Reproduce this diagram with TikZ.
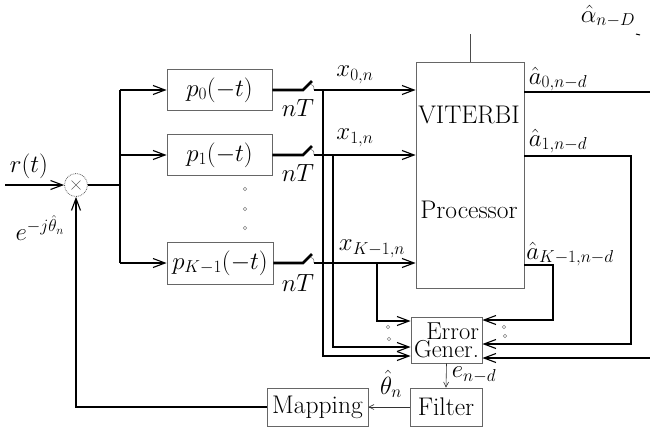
\documentclass[tikz,border=0pt]{standalone}
\usetikzlibrary{arrows.meta}
\newcommand\dfont{\fontsize{25.5}{29}\selectfont}
\newcommand\efont{\fontsize{24.5}{26}\selectfont}
\newcommand\mfont{\fontsize{25}{29}\selectfont}
\newcommand\rfont{\fontsize{32}{36}\selectfont}
\begin{document}
\begin{tikzpicture}[x=1pt,y=-1pt,
  sig/.style={line width=2.8pt},
  sigarr/.style={sig,-{Straight Barb[length=12pt,width=9pt,line width=1.1pt]}},
  thinarr/.style={line width=0.6pt,draw=black!80,-{Straight Barb[length=5pt,width=5pt,line width=0.6pt]}},
  thinln/.style={line width=0.6pt,draw=black!70},
  blk/.style={draw=black!60,line width=0.8pt,inner sep=0pt,font=\dfont},
  mblk/.style={blk,font=\mfont},
  lab/.style={inner sep=0pt,font=\mfont},
  tlab/.style={inner sep=0pt,font=\dfont},
  dotc/.style={circle,draw=black!50,line width=0.4pt,inner sep=0pt,minimum size=3.5pt},
  mult/.style={circle,draw=black!65,densely dotted,line width=0.8pt,minimum size=23pt,inner sep=0pt,
    path picture={\draw[black!60,line width=0.6pt,solid]
      ([shift={(-4.5pt,-4.5pt)}]path picture bounding box.center) -- ([shift={(4.5pt,4.5pt)}]path picture bounding box.center)
      ([shift={(-4.5pt,4.5pt)}]path picture bounding box.center) -- ([shift={(4.5pt,-4.5pt)}]path picture bounding box.center);}}
]
\useasboundingbox (0,0) rectangle (650,432);

% multiplier and input
\coordinate (in) at (5,185);
\node[mult] (m) at (76,185) {};
\node[inner sep=0pt,font=\rfont] (rt) at (29,166) {$r(t)$};
\node[lab] (ej) at (40,228) {$e^{-j\hat{\theta}_n}$};
\draw[sigarr] (in) -- (m.west);

% matched filters
\node[mblk,minimum width=105pt,minimum height=41pt] (p0) at (219.5,90) {$p_0(-t)$};
\node[mblk,minimum width=105pt,minimum height=41pt] (p1) at (219.5,155) {$p_1(-t)$};
\node[mblk,minimum width=106pt,minimum height=42pt] (pK) at (220,263) {$p_{K-1}(-t)$};
\node[dotc] (d1) at (245,189) {};
\node[dotc] (d2) at (245,209) {};
\node[dotc] (d3) at (245,228) {};

\coordinate (j) at (120,185);
\coordinate (jt) at (120,90);
\coordinate (jb) at (120,263);
\draw[sig] (m.east) -- (j);
\draw[sig] (jt) -- (jb);
\draw[sigarr] (jt) -- (p0.west);
\draw[sigarr] (j |- p1.west) -- (p1.west);
\draw[sigarr] (jb) -- (pK.west);

% Viterbi processor
\node[blk,minimum width=108pt,minimum height=226pt] (vit) at (470,175) {};
\node[tlab] (vt1) at (469,115) {VITERBI};
\node[tlab] (vt2) at (469,210) {Processor};
\coordinate (vtop) at (470,34);
\draw[thinln] (vit.north) -- (vtop);
\node[lab] (aD) at (608,16) {$\hat{\alpha}_{n-D}$};
\coordinate (tk1) at (636,34);
\coordinate (tk2) at (640,35);
\draw[line width=1pt] (tk1) -- (tk2);

% switches
\foreach \i/\y in {0/90,1/155,K/263}{
  \coordinate (s\i a) at (303,\y);
  \coordinate (s\i b) at (312,\y-9);
  \coordinate (s\i c) at (314,\y);
  \draw[sig] (p\i.east) -- (s\i a) -- (s\i b);
  \draw[line width=0.5pt,black!60] (310,\y-6) .. controls (314,\y-4) .. (s\i c);
  \draw[sigarr] (s\i c) -- (vit.west |- s\i c);
}
\node[lab] (nT0) at (298,108) {$nT$};
\node[lab] (nT1) at (298,173) {$nT$};
\node[lab] (nTK) at (298,283) {$nT$};
\node[lab] (x0) at (355,75) {$x_{0,n}$};
\node[lab] (x1) at (355,138) {$x_{1,n}$};
\node[lab] (xK) at (372,249) {$x_{K-1,n}$};

% error generator, filter, mapping
\node[blk,font=\efont,minimum width=71pt,minimum height=46pt,align=right] (err) at (446.5,340) {Error\\[-8pt]Gener.};
\node[blk,minimum width=72pt,minimum height=38pt] (filt) at (446,407) {Filter};
\node[blk,minimum width=101pt,minimum height=38pt] (map) at (317.5,407) {Mapping};
\node[lab] (enl) at (474,375) {$e_{n-d}$};
\node[lab] (thl) at (391,384) {$\hat{\theta}_n$};

\draw[thinarr] (err.south) -- (filt.north);
\draw[thinarr] (filt.west) -- (map.east);
\draw[sigarr] (map.west) -| (m.south);

% feeds into error generator (left)
\coordinate (v0) at (323,90);
\coordinate (v1) at (333,155);
\coordinate (vK) at (377,263);
\draw[sigarr] (v0) |- ([yshift=-16pt]err.west);
\draw[sigarr] (v1) |- ([yshift=-7pt]err.west);
\draw[sigarr] (vK) |- ([yshift=19pt]err.west);
\node[dotc] (ld1) at (388,327) {};
\node[dotc] (ld2) at (389,339) {};

% outputs of the Viterbi processor
\coordinate (o0) at (650,92);
\draw[sig] (vit.east |- o0) -- (o0);
\node[lab] (a0) at (558,79) {$\hat{a}_{0,n-d}$};
\coordinate (c1) at (631,156);
\draw[sigarr] (vit.east |- c1) -- (c1) |- ([yshift=-4pt]err.east);
\node[lab] (a1) at (558,141) {$\hat{a}_{1,n-d}$};
\coordinate (cK) at (553,265);
\draw[sigarr] (vit.east |- cK) -- (cK) |- ([yshift=20pt]err.east);
\node[lab] (aK) at (570,254) {$\hat{a}_{K-1,n-d}$};
\coordinate (o3) at (650,358);
\draw[sigarr] (o3) -- (err.east |- o3);
\node[dotc] (rd1) at (504,327) {};
\node[dotc] (rd2) at (505,336) {};
\end{tikzpicture}
\end{document}
